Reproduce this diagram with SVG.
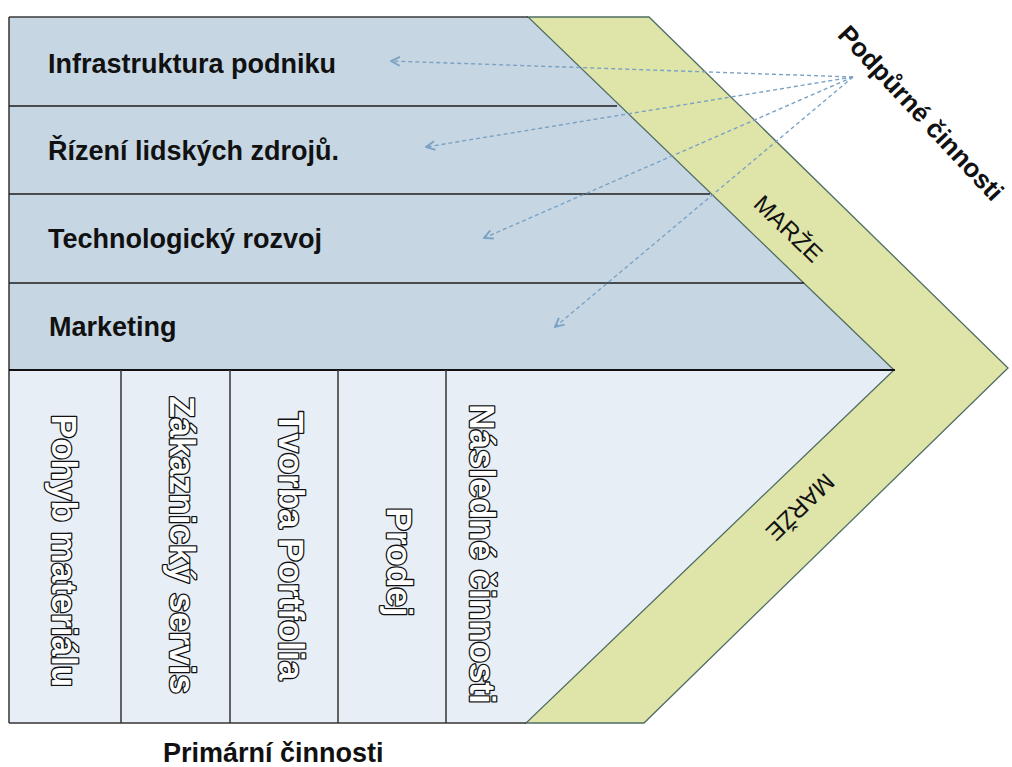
<svg xmlns="http://www.w3.org/2000/svg" width="1012" height="767" viewBox="0 0 1012 767">
<style>
.lbl{font-family:"Liberation Sans",Arial,sans-serif;font-weight:bold;font-size:27px;fill:#111}
.prim{font-family:"Liberation Sans",Arial,sans-serif;font-weight:bold;font-size:35px;fill:#fff;stroke:#111;stroke-width:2.6;paint-order:stroke;stroke-linejoin:round;text-anchor:middle}
.marze{font-family:"Liberation Sans",Arial,sans-serif;font-size:24px;fill:#111;text-anchor:middle}
.sep{stroke:#1e1e1e;stroke-width:1.5}
.col{stroke:#333;stroke-width:1.5}
.dash{fill:none;stroke:#7aa2c4;stroke-width:1.4;stroke-dasharray:4 3;marker-end:url(#ah)}
</style>
<defs>
<marker id="ah" viewBox="0 0 10 10" refX="9" refY="5" markerWidth="11" markerHeight="11" markerUnits="userSpaceOnUse" orient="auto">
<path d="M1,1 L9,5 L1,9" fill="none" stroke="#7aa2c4" stroke-width="1.7"/>
</marker>
</defs>
<rect width="1012" height="767" fill="#fff"/>
<g id="support-area">
<polygon points="9,17 528,17 894,370 9,370" fill="#c6d6e3"/>
</g>
<g id="primary-area">
<polygon points="9,370 894,370 526,723 9,723" fill="#e7eef6"/>
</g>
<g id="margin">
<polygon points="528,17 649,17 1008,368 644,723 526,723 894,370" fill="#dfe4a9" stroke="#4f6d63" stroke-width="1.3" stroke-linejoin="miter"/>
<text class="marze" transform="translate(788,229) rotate(44)" y="8">MARŽE</text>
<text class="marze" transform="translate(800,507) rotate(136)" y="8">MARŽE</text>
</g>
<g id="frame">
<line x1="9" y1="17" x2="528" y2="17" stroke="#3a3a3a" stroke-width="1.5"/>
<line x1="9" y1="17" x2="9" y2="723" stroke="#333" stroke-width="1.5"/>
<line x1="9" y1="723" x2="526" y2="723" stroke="#333" stroke-width="1.5"/>
<line class="sep" x1="9" y1="106" x2="617" y2="106"/>
<line class="sep" x1="9" y1="194" x2="710" y2="194"/>
<line class="sep" x1="9" y1="283" x2="804" y2="283"/>
<line x1="9" y1="370" x2="895" y2="370" stroke="#111" stroke-width="2.2"/>
<line class="col" x1="121" y1="370" x2="121" y2="723"/>
<line class="col" x1="230" y1="370" x2="230" y2="723"/>
<line class="col" x1="338" y1="370" x2="338" y2="723"/>
<line class="col" x1="446" y1="370" x2="446" y2="723"/>
</g>
<g id="infrastruktura"><text class="lbl" x="48" y="73">Infrastruktura podniku</text></g>
<g id="rizeni"><text class="lbl" x="48" y="160">Řízení lidských zdrojů.</text></g>
<g id="technologicky"><text class="lbl" x="48" y="248">Technologický rozvoj</text></g>
<g id="marketing"><text class="lbl" x="49" y="336">Marketing</text></g>
<g id="pohyb"><text class="prim" transform="translate(51.5,551) rotate(90)">Pohyb materiálu</text></g>
<g id="zakaznicky"><text class="prim" transform="translate(169.5,545) rotate(90)">Zákaznický servis</text></g>
<g id="tvorba"><text class="prim" transform="translate(278.5,546) rotate(90)">Tvorba Portfolia</text></g>
<g id="prodej"><text class="prim" transform="translate(386.5,562) rotate(90)">Prodej</text></g>
<g id="nasledne"><text class="prim" transform="translate(469.5,554) rotate(90)">Následné činnosti</text></g>
<g id="podpurne"><text class="lbl" style="font-size:26px;text-anchor:middle" transform="translate(921,113) rotate(47)" y="9">Podpůrné činnosti</text></g>
<g id="primarni"><text class="lbl" x="163" y="762">Primární činnosti</text></g>
<g id="connectors">
<path class="dash" d="M853,77 L391,61"/>
<path class="dash" d="M853,77 L426,147"/>
<path class="dash" d="M853,77 L484,238"/>
<path class="dash" d="M853,77 L555,327"/>
</g>
</svg>
